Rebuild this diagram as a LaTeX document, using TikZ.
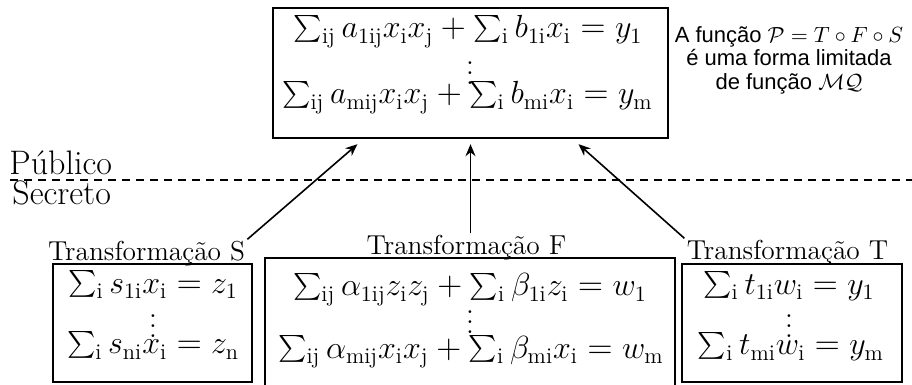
\documentclass[tikz,border=0pt]{standalone}
\usepackage{amsmath}
\usepackage{fontspec}
\newfontfamily\notefont{Liberation Sans}
\usetikzlibrary{arrows.meta,positioning,calc}
\DeclareFontShape{OML}{cmm}{m}{it}{<-6>cmmi5<6-7>cmmi6<7-8>cmmi7<8-9>cmmi8<9-10>cmmi9<10-12>cmmi10<12->cmmi12}{\skewchar\font'177}
\DeclareFontShape{OMX}{cmex}{m}{n}{<->s*[0.84]cmex10}{}
\newcommand{\rsub}[1]{\mathrm{#1}}
\newcommand{\vdotz}{\vbox{\baselineskip=5pt\lineskiplimit=0pt\hbox{.}\hbox{.}\hbox{.}}}

\begin{document}
\begin{tikzpicture}[x=0.5pt,y=-0.5pt,
  eqbox/.style={draw,line width=1pt,inner sep=0pt},
  eqline/.style={anchor=base,inner sep=0pt,font=\fontsize{16}{19}\selectfont},
  dots/.style={inner sep=0pt,font=\Large},
  tlabel/.style={anchor=base,inner sep=1pt,font=\fontsize{13.7}{16}\selectfont},
  side/.style={anchor=base west,inner sep=0pt,font=\fontsize{17}{20}\selectfont},
  arr/.style={-{Stealth[length=6pt,width=5pt]},line width=0.8pt}]
  \useasboundingbox (0,0) rectangle (912,385);
  \clip (0,0) rectangle (912,385);

  \node[eqbox,line width=1.2pt,minimum width=197.5pt,minimum height=65pt] (pub) at (470.5,73) {};
  \node[eqline] (pubA) at (468,38) {$\sum_{\rsub{ij}} a_{1\rsub{ij}} x_{\rsub{i}} x_{\rsub{j}} + \sum_{\rsub{i}} b_{1\rsub{i}} x_{\rsub{i}} = y_1$};
  \node[dots] (pubD) at (470,73) {\vdotz};
  \node[eqline] (pubB) at (467.5,104) {$\sum_{\rsub{ij}} a_{\rsub{mij}} x_{\rsub{i}} x_{\rsub{j}} + \sum_{\rsub{i}} b_{\rsub{mi}} x_{\rsub{i}} = y_{\rsub{m}}$};

  \node[align=center,font=\notefont\fontsize{11}{11.75}\selectfont] (note) at (789,60)
    {A função $\mathcal{P} = T \circ F \circ S$\\ é uma forma limitada\\ de função $\mathcal{MQ}$};

  \coordinate (dl) at (10,180);
  \coordinate (dr) at (912,180);
  \draw[dashed,dash pattern=on 4pt off 3pt,line width=0.75pt] (dl) -- (dr);
  \node[side] (pubtxt) at (9,175) {Público};
  \node[side] (sectxt) at (12,205) {Secreto};

  \node[eqbox,minimum width=99.5pt,minimum height=59pt] (boxS) at (152.5,323) {};
  \node[tlabel] (lblS) at (146.5,261) {Transformação S};
  \node[eqline] (sA) at (153,293) {$\sum_{\rsub{i}} s_{1\rsub{i}} x_{\rsub{i}} = z_1$};
  \node[dots] (sD) at (153,326) {\vdotz};
  \node[eqline] (sB) at (153,354) {$\sum_{\rsub{i}} s_{\rsub{ni}} x_{\rsub{i}} = z_{\rsub{n}}$};

  \node[eqbox,line width=0.8pt,minimum width=205pt,minimum height=68.5pt] (boxF) at (470,326.5) {};
  \node[tlabel] (lblF) at (466.5,255) {Transformação F};
  \node[eqline] (fA) at (470,296) {$\sum_{\rsub{ij}} \alpha_{1\rsub{ij}} z_{\rsub{i}} z_{\rsub{j}} + \sum_{\rsub{i}} \beta_{1\rsub{i}} z_{\rsub{i}} = w_1$};
  \node[dots] (fD) at (470,322) {\vdotz};
  \node[eqline] (fB) at (471,358) {$\sum_{\rsub{ij}} \alpha_{\rsub{mij}} x_{\rsub{i}} x_{\rsub{j}} + \sum_{\rsub{i}} \beta_{\rsub{mi}} x_{\rsub{i}} = w_{\rsub{m}}$};

  \node[eqbox,minimum width=110pt,minimum height=59pt] (boxT) at (792,323) {};
  \node[tlabel] (lblT) at (787.5,260) {Transformação T};
  \node[eqline] (tA) at (789,294) {$\sum_{\rsub{i}} t_{1\rsub{i}} w_{\rsub{i}} = y_1$};
  \node[dots] (tD) at (789,326) {\vdotz};
  \node[eqline] (tB) at (791,355) {$\sum_{\rsub{i}} t_{\rsub{mi}} w_{\rsub{i}} = y_{\rsub{m}}$};

  \draw[arr] (lblS.north east) -- ([shift={(-113,5)}]pub.south);
  \draw[arr] (lblF.north -| pub.south) -- ([shift={(0,5)}]pub.south);
  \draw[arr] (lblT.north west) -- ([shift={(108,5)}]pub.south);
\end{tikzpicture}
\end{document}
